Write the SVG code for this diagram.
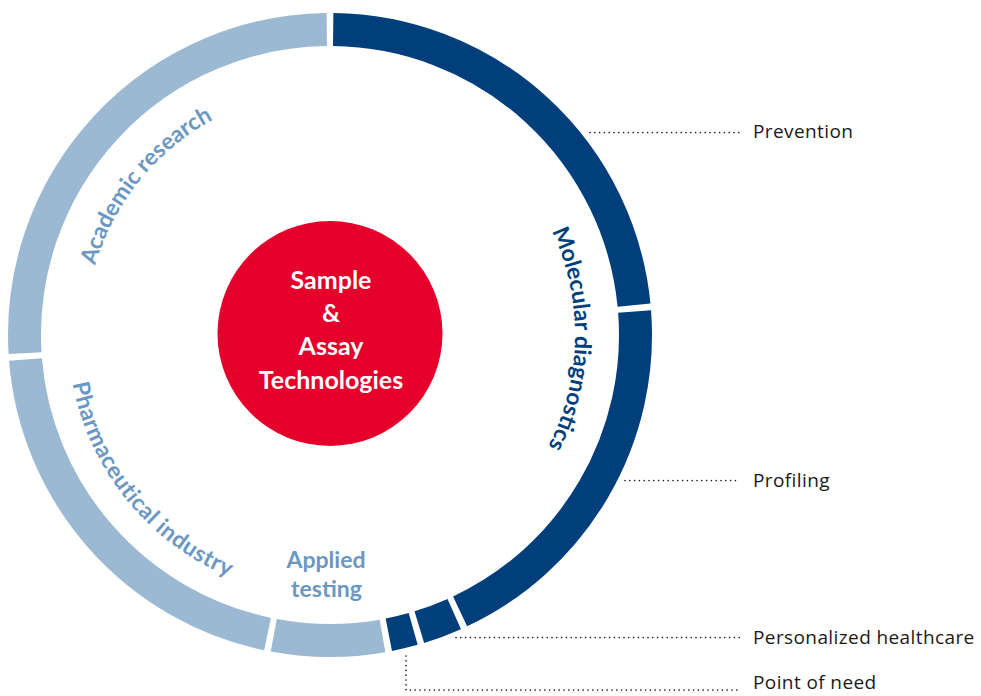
<svg xmlns="http://www.w3.org/2000/svg" width="981" height="696" viewBox="0 0 981 696">
  <style>
    .seg { fill: none; stroke-width: 33; stroke-linecap: butt; }
    .dark { stroke: #003F7C; }
    .light { stroke: #9CB9D4; }
    .ringtxt { font-family: Lato, "Noto Sans", sans-serif; font-weight: 700; font-size: 23px; }
    .lt { fill: #6B98C3; }
    .dk { fill: #003F7C; }
    .center { font-family: Lato, "Noto Sans", sans-serif; font-weight: 700; font-size: 25px; fill: #ffffff; text-anchor: middle; }
    .label { font-family: "Open Sans", Lato, sans-serif; font-size: 19px; letter-spacing: 0.4px; fill: #1a1a1a; }
    .dot { fill: none; stroke: #222; stroke-width: 1.7; stroke-linecap: round; stroke-dasharray: 0 4.8; }
  </style>
  <defs>
    <path id="pAcad" d="M85.15,343.55 A245,245 0 0 1 287.5,93.7"/>
    <path id="pMol" d="M490.7,150.1 A245,245 0 0 1 484.2,525.4"/>
    <path id="pPharma" d="M85.4,241.1 A262,262 0 0 0 371,593.8"/>
  </defs>
  <rect width="981" height="696" fill="#ffffff"/>

  <g id="ring">
    <g id="seg-prevention"><path class="seg dark" d="M333.2,29.52 A305.5,305.5 0 0 1 634.04,305.19"/></g>
    <g id="seg-profiling"><path class="seg dark" d="M634.6,311.56 A305.5,305.5 0 0 1 460.08,611.42"/></g>
    <g id="seg-personalized"><path class="seg dark" d="M454.26,614.09 A305.5,305.5 0 0 1 419.32,627.15"/></g>
    <g id="seg-pointofneed"><path class="seg dark" d="M413.18,628.96 A305.5,305.5 0 0 1 388.82,634.79"/></g>
    <g id="seg-applied"><path class="seg light" d="M382.52,635.95 A305.5,305.5 0 0 1 273.8,635.29"/></g>
    <g id="seg-pharma"><path class="seg light" d="M267.53,634.04 A305.5,305.5 0 0 1 25.48,359.5"/></g>
    <g id="seg-academic"><path class="seg light" d="M25.04,353.12 A305.5,305.5 0 0 1 326.8,29.52"/></g>
  </g>

  <g id="ring-labels">
    <text class="ringtxt lt"><textPath href="#pAcad" startOffset="50%" text-anchor="middle">Academic research</textPath></text>
    <text class="ringtxt dk"><textPath href="#pMol" startOffset="50%" text-anchor="middle">Molecular diagnostics</textPath></text>
    <text class="ringtxt lt" letter-spacing="0.5"><textPath href="#pPharma" startOffset="50%" text-anchor="middle">Pharmaceutical industry</textPath></text>
    <text class="ringtxt lt" text-anchor="middle"><tspan x="326" y="568">Applied</tspan><tspan x="326.5" y="597">testing</tspan></text>
  </g>

  <g id="center-node">
    <circle cx="330" cy="333.5" r="112.5" fill="#E4002B"/>
    <text class="center"><tspan x="331" y="289">Sample</tspan><tspan x="331" y="322">&amp;</tspan><tspan x="331" y="355">Assay</tspan><tspan x="331" y="389">Technologies</tspan></text>
  </g>

  <g id="connectors">
    <path class="dot" d="M590,132.5 H741"/>
    <path class="dot" d="M625,480.5 H738"/>
    <path class="dot" d="M456,637.5 H741"/>
    <path class="dot" d="M406,656 V690 H741"/>
  </g>

  <g id="labels">
    <g id="lbl-prevention"><text class="label" x="753" y="138">Prevention</text></g>
    <g id="lbl-profiling"><text class="label" x="753" y="487">Profiling</text></g>
    <g id="lbl-personalized"><text class="label" x="753" y="644">Personalized healthcare</text></g>
    <g id="lbl-pointofneed"><text class="label" x="753" y="689">Point of need</text></g>
  </g>
</svg>
